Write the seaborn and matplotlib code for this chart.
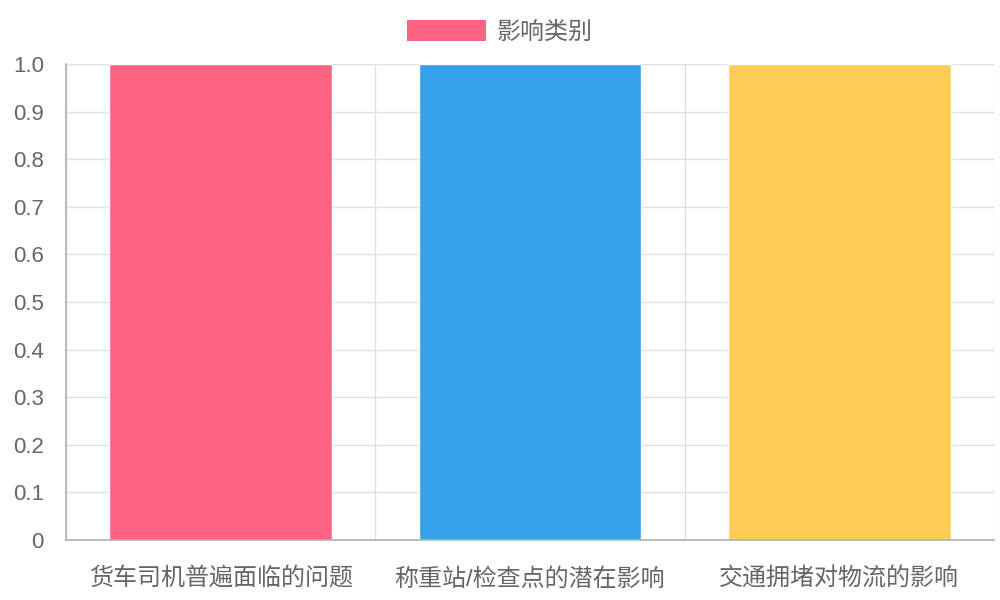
import matplotlib
matplotlib.use("Agg")
import matplotlib.pyplot as plt
import matplotlib.patches as mpatches
import seaborn as sns
import pandas as pd
import numpy as np

categories = ["货车司机普遍面临的问题", "称重站/检查点的潜在影响", "交通拥堵对物流的影响"]
values = [1, 1, 1]
bar_colors = ["#ff6384", "#36a2eb", "#ffcd56"]
legend_label = "影响类别"
y_ticks = np.round(np.arange(0, 1.01, 0.1), 1)

sns.set_theme(style="white")
plt.rcParams["font.family"] = ["Liberation Sans", "Noto Sans CJK SC", "DejaVu Sans"]

df = pd.DataFrame({"category": categories, "value": values})

fig = plt.figure(figsize=(10, 6), dpi=100)
ax = fig.add_axes([0.066, 0.1, 0.928, 0.7933])

sns.barplot(data=df, x="category", y="value", hue="category", palette=bar_colors,
            width=0.72, saturation=1, legend=False, ax=ax, zorder=3)

ax.set_xlim(-0.5, len(categories) - 0.5)
ax.set_ylim(0, 1.0)
ax.set_xlabel("")
ax.set_ylabel("")

grid_c = "#e0e0e0"
axis_c = "#b0b0b0"
text_c = "#666666"

# y axis
ax.set_yticks(y_ticks)
ax.set_yticklabels(["0" if v == 0 else "{:.1f}".format(v) for v in y_ticks])
ax.tick_params(axis="y", length=14, width=1, color=grid_c, labelsize=16, labelcolor=text_c, pad=2)
ax.yaxis.grid(True, color=grid_c, linewidth=1, zorder=0)

# x axis: labels at centers, grid at boundaries
ax.set_xticks(range(len(categories)))
ax.set_xticklabels(categories)
ax.set_xticks(np.arange(-0.5, len(categories), 1), minor=True)
ax.tick_params(axis="x", which="major", length=0, labelsize=17.3, labelcolor=text_c, pad=20)
ax.tick_params(axis="x", which="minor", length=13, width=1, color=grid_c)
ax.xaxis.grid(True, which="minor", color=grid_c, linewidth=1, zorder=0)
ax.xaxis.grid(False, which="major")
ax.set_axisbelow(True)

for s in ["top", "right"]:
    ax.spines[s].set_visible(False)
for s in ["left", "bottom"]:
    ax.spines[s].set_color(axis_c)
    ax.spines[s].set_linewidth(1.2)
    ax.spines[s].set_zorder(4)

handle = mpatches.Patch(facecolor=bar_colors[0], edgecolor="none", label=legend_label)
fig.legend(handles=[handle], loc="center", bbox_to_anchor=(0.5, 0.947), frameon=False,
           fontsize=17.3, labelcolor=text_c, handlelength=3.3, handleheight=1.0,
           handletextpad=0.45)

fig.savefig("out.png", dpi=100)
